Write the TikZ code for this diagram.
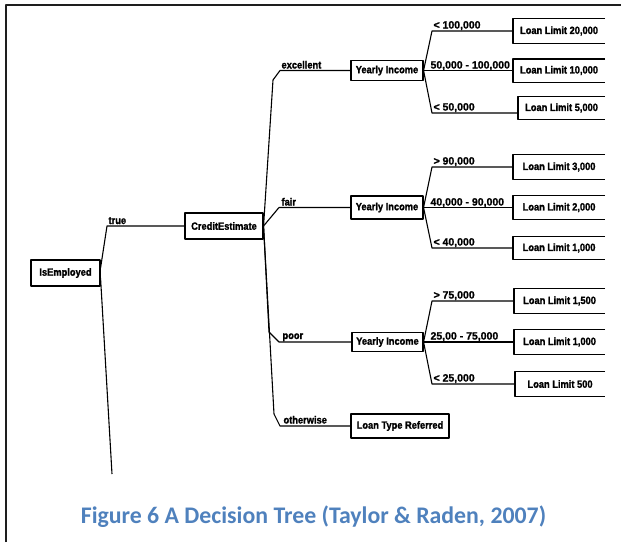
\documentclass[tikz,border=0pt]{standalone}
\usepackage{fontspec}
\newfontfamily\boxfont{Liberation Sans}[FakeStretch=0.885, FakeBold=1.5]
\newfontfamily\lblfont{Liberation Sans}[FakeBold=1.2]
\newfontfamily\capfont{Carlito}
\definecolor{capblue}{RGB}{79,129,189}
\definecolor{framegray}{RGB}{30,30,30}
\begin{document}
\begin{tikzpicture}[x=1pt,y=-1pt,
  line width=1.1pt, line join=round,
  bfont/.style={font=\boxfont\bfseries\fontsize{10.5}{12}\selectfont},
  box/.style={draw, inner sep=0pt, bfont},
  leaf/.style={inner sep=0pt, anchor=west, bfont},
  wlbl/.style={anchor=base west, inner sep=0pt, bfont},
  nlbl/.style={anchor=base west, inner sep=0pt, font=\lblfont\bfseries\fontsize{10.5}{12}\selectfont},
  conn/.style={line width=1.1pt}
]
\useasboundingbox (0,0) rectangle (621,542);
% frame
\draw[line width=1.8pt, framegray] (6,542) -- (6,5) -- (621,5);

% decision nodes
\node[box, minimum width=69pt, minimum height=26pt] (ie) at (65.5,273) {IsEmployed};
\node[box, minimum width=78pt, minimum height=26pt] (ce) at (224,226) {CreditEstimate};
\node[box, minimum width=72pt, minimum height=20pt] (y1) at (387,70.5) {Yearly Income};
\node[box, minimum width=72pt, minimum height=23pt] (y2) at (387,207.5) {Yearly Income};
\node[box, minimum width=71pt, minimum height=19pt] (y3) at (387.5,342) {Yearly Income};
\node[box, minimum width=98pt, minimum height=24pt] (ltr) at (400,426) {Loan Type Referred};

% leaves (open on the right)
\node[leaf, minimum width=91pt, minimum height=24pt] (l1) at (513,31) {Loan Limit 20,000};
\node[leaf, minimum width=91pt, minimum height=22pt] (l2) at (513,70.5) {Loan Limit 10,000};
\node[leaf, minimum width=86pt, minimum height=22pt] (l3) at (518,108) {Loan Limit 5,000};
\node[leaf, minimum width=91pt, minimum height=24pt] (l4) at (513,167) {Loan Limit 3,000};
\node[leaf, minimum width=91pt, minimum height=23pt] (l5) at (513,207.5) {Loan Limit 2,000};
\node[leaf, minimum width=91pt, minimum height=22pt] (l6) at (513,248) {Loan Limit 1,000};
\node[leaf, minimum width=90pt, minimum height=24pt] (l7) at (514,301) {Loan Limit 1,500};
\node[leaf, minimum width=90pt, minimum height=24pt] (l8) at (514,342) {Loan Limit 1,000};
\node[leaf, minimum width=89pt, minimum height=24pt] (l9) at (515,384) {Loan Limit 500};
\foreach \n in {l1,l2,l3,l4,l5,l6,l7,l8,l9}
  \draw (\n.north east) -- (\n.north west) -- (\n.south west) -- (\n.south east);

% bend points
\coordinate (tb) at (107,226);
\coordinate (fe) at (112,474);
\coordinate (ex1) at (273,80);
\coordinate (ex2) at (280,70.5);
\coordinate (fa) at (279,207.5);
\coordinate (po1) at (269,332);
\coordinate (po2) at (279,342);
\coordinate (ot1) at (274,414);
\coordinate (ot2) at (280,426);
\coordinate (a1) at (432,31);
\coordinate (a3) at (432,113);
\coordinate (b1) at (432,167);
\coordinate (b3) at (432,248);
\coordinate (c1) at (432,301);
\coordinate (c3) at (432,384);

% connectors
\draw[conn] ([yshift=5pt]ie.east) -- (tb) -- (ce.west);
\draw[conn] ([yshift=-5pt]ie.east) -- (fe);
\draw[conn] (ce.east) -- (ex1) -- (ex2) -- (y1.west);
\draw[conn] (ce.east) -- (fa) -- (y2.west);
\draw[conn] (ce.east) -- (po1) -- (po2) -- (y3.west);
\draw[conn] (ce.east) -- (ot1) -- (ot2) -- (ltr.west);

\draw[conn] (y1.east) -- (a1) -- (l1.west);
\draw[conn] (y1.east) -- (l2.west);
\draw[conn] (y1.east) -- (a3) -- (a3 -| l3.west);
\draw[conn] (y2.east) -- (b1) -- (l4.west);
\draw[conn] (y2.east) -- (l5.west);
\draw[conn] (y2.east) -- (b3) -- (l6.west);
\draw[conn] (y3.east) -- (c1) -- (l7.west);
\draw[conn] (y3.east) -- (l8.west);
\draw[conn] (y3.east) -- (c3) -- (l9.west);

% branch labels
\node[wlbl] (ltrue) at (108,224) {true};
\node[wlbl] (lexc) at (281,68.5) {excellent};
\node[wlbl] (lfair) at (281,205.5) {fair};
\node[wlbl] (lpoor) at (282,339) {poor};
\node[wlbl] (loth) at (283,423.5) {otherwise};
\node[nlbl] (n1) at (433,28.5) {< 100,000};
\node[nlbl] (n2) at (430,68.5) {50,000 - 100,000};
\node[nlbl] (n3) at (433,110.5) {< 50,000};
\node[nlbl] (n4) at (433,164.5) {> 90,000};
\node[nlbl] (n5) at (430,205.5) {40,000 - 90,000};
\node[nlbl] (n6) at (433,245.5) {< 40,000};
\node[nlbl] (n7) at (433,298.5) {> 75,000};
\node[nlbl] (n8) at (430,339.5) {25,00 - 75,000};
\node[nlbl] (n9) at (433,381.5) {< 25,000};

% caption
\node[anchor=base, inner sep=0pt, text=capblue, font=\capfont\bfseries\fontsize{23.8}{28}\selectfont] (cap) at (313.5,523) {Figure 6 A Decision Tree (Taylor \& Raden, 2007)};
\end{tikzpicture}
\end{document}
